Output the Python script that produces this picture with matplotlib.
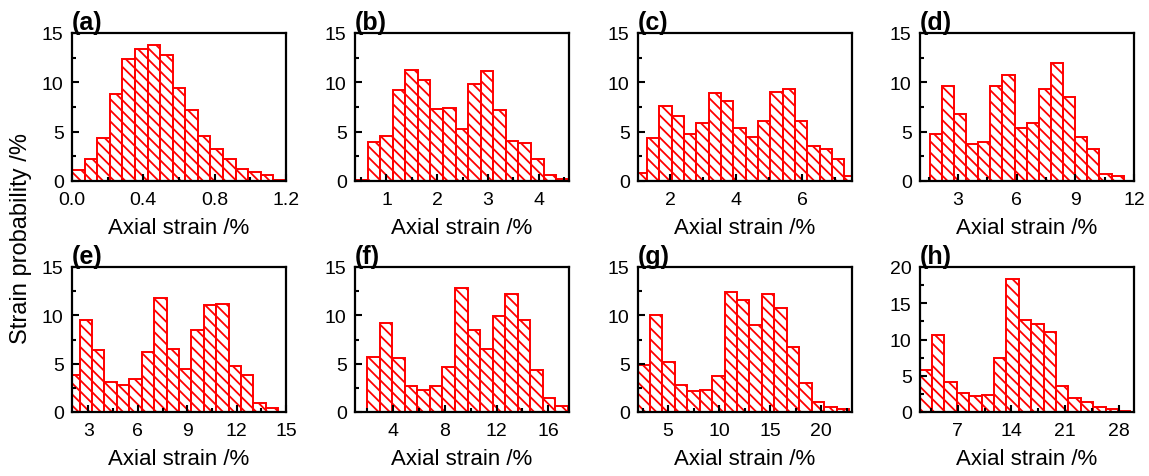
import numpy as np
import matplotlib
matplotlib.use('Agg')
import matplotlib.pyplot as plt
from matplotlib.ticker import MultipleLocator, FormatStrFormatter

plt.rcParams['font.family'] = ['Liberation Sans', 'DejaVu Sans']
plt.rcParams['hatch.color'] = 'red'
plt.rcParams['hatch.linewidth'] = 1.3

# panel data: first bin edge, bin width, bar heights (strain probability, %)
labels = ['(a)', '(b)', '(c)', '(d)', '(e)', '(f)', '(g)', '(h)']

a_start, a_width = 0.0, 0.0706
a_heights = [1.1, 2.2, 4.4, 8.8, 12.4, 13.4, 13.8, 12.8, 9.4, 7.2, 4.6, 3.2, 2.2, 1.2, 0.9, 0.6, 0.1]

b_start, b_width = 0.38, 0.248
b_heights = [0.1, 4.0, 4.6, 9.2, 11.2, 10.2, 7.3, 7.4, 5.3, 9.8, 11.1, 7.2, 4.1, 3.9, 2.2, 0.6, 0.2]

c_start, c_width = 0.915, 0.375
c_heights = [0.8, 4.4, 7.6, 6.6, 4.8, 5.9, 8.9, 8.1, 5.4, 4.5, 6.1, 9.0, 9.3, 6.1, 3.5, 3.2, 2.2, 0.55]

d_start, d_width = 0.93, 0.62
d_heights = [0.0, 4.8, 9.6, 6.8, 3.7, 4.0, 9.6, 10.7, 5.4, 5.9, 9.3, 12.0, 8.5, 4.5, 3.2, 0.7, 0.5, 0.0]

e_start, e_width = 1.71, 0.754
e_heights = [3.85, 9.5, 6.4, 3.1, 2.8, 3.4, 6.2, 11.8, 6.5, 4.5, 8.5, 11.1, 11.2, 4.8, 3.8, 0.9, 0.45]

f_start, f_width = 2.0, 0.97
f_heights = [5.7, 9.2, 5.6, 2.7, 2.3, 2.7, 4.7, 12.8, 8.5, 6.5, 9.9, 12.2, 9.5, 4.3, 1.4, 0.65]

g_start, g_width = 1.98, 1.22
g_heights = [4.85, 10.0, 5.2, 2.8, 2.2, 2.3, 3.75, 12.4, 11.6, 9.0, 12.2, 10.8, 6.7, 3.0, 1.0, 0.5, 0.3]

h_start, h_width = 2.0, 1.62
h_heights = [5.75, 10.6, 4.2, 2.65, 2.2, 2.4, 7.5, 18.3, 12.7, 12.2, 11.0, 3.65, 1.9, 1.4, 0.7, 0.4, 0.1]

starts = [a_start, b_start, c_start, d_start, e_start, f_start, g_start, h_start]
widths = [a_width, b_width, c_width, d_width, e_width, f_width, g_width, h_width]
heights = [a_heights, b_heights, c_heights, d_heights, e_heights, f_heights, g_heights, h_heights]

# axis ranges and ticks
xlims = [(0, 1.2), (0.38, 4.6), (1.02, 7.52), (1.05, 12.0),
         (2.0, 15.0), (1.07, 17.6), (2.05, 23.0), (2.05, 30.0)]
xmajor = [0.4, 1, 2, 3, 3, 4, 5, 7]
ymax = [15, 15, 15, 15, 15, 15, 15, 20]

W, H = 1149, 477
fig = plt.figure(figsize=(W / 100, H / 100), dpi=100)

lefts = [72, 355, 638, 920]
rows = [(34, 182), (268, 413)]
axw = 214

for i in range(8):
    r, c = divmod(i, 4)
    top, bot = rows[r]
    ax = fig.add_axes([lefts[c] / W, 1 - bot / H, axw / W, (bot - top) / H])
    h = np.array(heights[i])
    x = starts[i] + widths[i] * np.arange(len(h))
    ax.bar(x, h, widths[i], align='edge', facecolor='white', edgecolor='red',
           hatch='\\\\\\', linewidth=1.4)
    ax.set_xlim(*xlims[i])
    ax.set_ylim(0, ymax[i])
    ax.xaxis.set_major_locator(MultipleLocator(xmajor[i]))
    ax.xaxis.set_minor_locator(MultipleLocator(xmajor[i] / 2))
    ax.yaxis.set_major_locator(MultipleLocator(5))
    ax.yaxis.set_minor_locator(MultipleLocator(2.5))
    if i == 0:
        ax.xaxis.set_major_formatter(FormatStrFormatter('%.1f'))
    ax.tick_params(which='both', direction='in', top=False, right=False,
                   labelsize=14, width=1.5)
    ax.tick_params(which='major', length=5)
    ax.tick_params(which='minor', length=3)
    ax.tick_params(axis='x', which='major', pad=7)
    ax.tick_params(axis='y', which='major', pad=6)
    for s in ax.spines.values():
        s.set_linewidth(1.6)
    ax.set_xlabel('Axial strain /%', fontsize=16, labelpad=7)
    ax.text(0.0, 0.99, labels[i], transform=ax.transAxes, ha='left', va='bottom',
            fontsize=18, fontweight='bold')

fig.text(0.018, 0.5, 'Strain probability /%', rotation=90, ha='center',
         va='center', fontsize=17)

fig.savefig('out.png', dpi=100)
